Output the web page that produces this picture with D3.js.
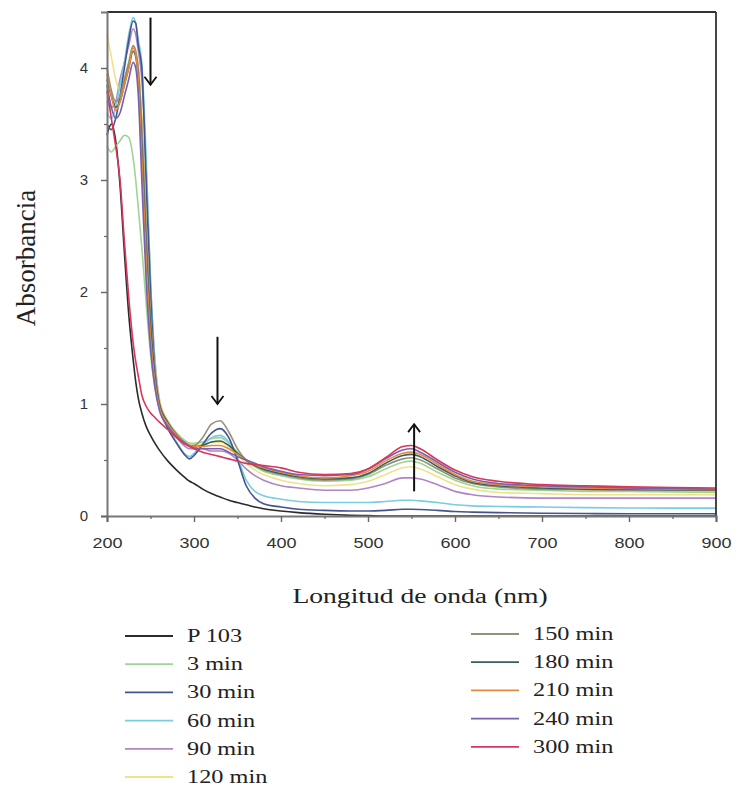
<!DOCTYPE html>
<html>
<head>
<meta charset="utf-8">
<script src="https://cdn.jsdelivr.net/npm/d3@7"></script>
<style>
  html, body { margin: 0; padding: 0; background: #fff; }
  svg { display: block; }
</style>
</head>
<body>
<svg id="chart" width="740" height="799"></svg>
<script>
// ---------------- DATA ----------------
const wavelengths = [200,205,210,215,220,225,230,233,236,240,245,250,255,260,270,280,290,295,300,310,320,330,340,350,360,370,380,400,420,450,480,500,520,540,550,560,580,600,620,650,700,750,800,850,900];

const seriesNames = ["P 103","3 min","30 min","60 min","90 min","120 min","150 min","180 min","210 min","240 min","300 min"];

const P103   = [3.40,3.50,3.35,2.95,2.35,1.80,1.40,1.20,1.05,0.92,0.80,0.72,0.65,0.59,0.49,0.41,0.34,0.31,0.29,0.24,0.20,0.17,0.14,0.12,0.10,0.08,0.065,0.045,0.03,0.015,0.006,0.003,0.0,0.0,0.0,0.0,0.0,0.0,0.0,0.0,0.0,0.0,0.0,0.0,0.0];
const min3   = [3.30,3.25,3.30,3.35,3.40,3.38,3.20,3.00,2.75,2.40,1.90,1.45,1.15,0.98,0.84,0.74,0.67,0.65,0.65,0.66,0.69,0.70,0.65,0.57,0.49,0.44,0.40,0.36,0.33,0.31,0.32,0.35,0.42,0.48,0.49,0.47,0.39,0.32,0.27,0.24,0.23,0.22,0.22,0.215,0.21];
const min30  = [3.50,3.45,3.55,3.75,4.00,4.25,4.42,4.40,4.20,4.00,3.00,2.00,1.30,1.00,0.78,0.65,0.54,0.51,0.54,0.64,0.74,0.78,0.70,0.50,0.27,0.16,0.11,0.08,0.06,0.05,0.045,0.045,0.05,0.06,0.06,0.058,0.05,0.04,0.035,0.03,0.025,0.022,0.02,0.02,0.02];
const min60  = [3.60,3.55,3.65,3.85,4.05,4.30,4.45,4.40,4.25,4.05,3.20,2.10,1.35,1.02,0.80,0.66,0.55,0.53,0.56,0.63,0.70,0.72,0.66,0.52,0.32,0.22,0.18,0.15,0.13,0.12,0.12,0.12,0.13,0.14,0.14,0.135,0.12,0.10,0.09,0.085,0.08,0.075,0.072,0.07,0.07];
const min90  = [3.70,3.65,3.70,3.90,4.05,4.20,4.35,4.30,4.15,3.90,3.10,2.10,1.40,1.05,0.82,0.70,0.62,0.60,0.60,0.60,0.58,0.58,0.56,0.50,0.42,0.36,0.32,0.27,0.25,0.23,0.23,0.25,0.29,0.34,0.34,0.33,0.28,0.22,0.19,0.17,0.16,0.16,0.16,0.16,0.16];
const min120 = [4.30,4.10,3.90,3.80,3.90,4.05,4.20,4.15,4.00,3.60,2.70,1.90,1.35,1.05,0.85,0.74,0.67,0.65,0.64,0.64,0.66,0.66,0.62,0.55,0.47,0.41,0.37,0.32,0.29,0.27,0.28,0.31,0.37,0.43,0.44,0.42,0.35,0.28,0.24,0.21,0.20,0.19,0.19,0.19,0.19];
const min150 = [4.00,3.80,3.70,3.75,3.90,4.05,4.20,4.15,4.00,3.50,2.60,1.80,1.30,1.02,0.84,0.73,0.65,0.63,0.63,0.70,0.82,0.85,0.75,0.60,0.50,0.45,0.41,0.37,0.34,0.32,0.33,0.37,0.45,0.51,0.52,0.50,0.42,0.34,0.29,0.26,0.24,0.235,0.23,0.23,0.225];
const min180 = [3.90,3.75,3.65,3.70,3.85,4.00,4.15,4.10,3.90,3.30,2.40,1.70,1.25,1.00,0.83,0.72,0.65,0.63,0.62,0.63,0.66,0.67,0.63,0.56,0.50,0.45,0.42,0.38,0.35,0.33,0.34,0.38,0.47,0.54,0.55,0.53,0.44,0.36,0.30,0.27,0.25,0.24,0.24,0.235,0.23];
const min210 = [3.95,3.75,3.62,3.70,3.85,4.00,4.18,4.12,3.90,3.20,2.30,1.60,1.20,0.98,0.82,0.72,0.65,0.63,0.62,0.62,0.63,0.63,0.60,0.55,0.50,0.46,0.43,0.39,0.36,0.34,0.36,0.40,0.49,0.56,0.57,0.55,0.46,0.37,0.31,0.28,0.26,0.25,0.245,0.24,0.235];
const min240 = [3.85,3.65,3.55,3.60,3.75,3.90,4.05,4.00,3.75,3.00,2.10,1.50,1.15,0.95,0.80,0.71,0.65,0.62,0.61,0.60,0.60,0.60,0.57,0.53,0.50,0.47,0.44,0.40,0.37,0.36,0.37,0.42,0.51,0.59,0.60,0.57,0.48,0.39,0.33,0.29,0.27,0.26,0.25,0.245,0.24];
const min300 = [3.80,3.55,3.30,3.00,2.45,1.95,1.55,1.38,1.25,1.08,0.98,0.92,0.88,0.84,0.77,0.70,0.64,0.62,0.60,0.57,0.55,0.53,0.51,0.49,0.47,0.46,0.45,0.43,0.39,0.37,0.38,0.42,0.52,0.62,0.63,0.60,0.50,0.41,0.35,0.31,0.28,0.27,0.26,0.255,0.25];

const seriesValues = [P103, min3, min30, min60, min90, min120, min150, min180, min210, min240, min300];

const xTicks = [200,300,400,500,600,700,800,900];
const xMinorTicks = [250,350,450,550,650,750,850];
const yTicks = [0,1,2,3,4];
const yMinorTicks = [0.5,1.5,2.5,3.5];

// annotation arrows (wavelength, from absorbance, to absorbance)
const arrowWl   = [250, 327, 553];
const arrowFrom = [4.45, 1.60, 0.22];
const arrowTo   = [3.85, 1.00, 0.82];

// ---------------- STYLE ----------------
const colors = ["#2b2b2b","#9fd494","#45548e","#78cde0","#b184c4","#efe28a","#92927a","#35605e","#e6893a","#7a5fb0","#d8365a"];
const drawOrder = [0,4,5,1,3,2,6,7,8,9,10];

// ---------------- DRAW ----------------
const svg = d3.select("#chart");
const x = d3.scaleLinear().domain([200, 900]).range([107, 716]);
const y = d3.scaleLinear().domain([0, 4.5]).range([516, 12]);

const line = d3.line()
  .x((d, i) => x(wavelengths[i]))
  .y(d => y(d))
  .curve(d3.curveMonotoneX);

const plot = svg.append("g");
drawOrder.forEach(k => {
  plot.append("path")
    .attr("d", line(seriesValues[k]))
    .attr("fill", "none")
    .attr("stroke", colors[k])
    .attr("stroke-width", 1.6)
    .attr("stroke-linejoin", "round");
});

// frame: top and right
svg.append("line").attr("x1", x(200)).attr("x2", x(900)).attr("y1", y(4.5)).attr("y2", y(4.5))
  .attr("stroke", "#333").attr("stroke-width", 1.8);
svg.append("line").attr("x1", x(900)).attr("x2", x(900)).attr("y1", y(4.5)).attr("y2", y(0))
  .attr("stroke", "#333").attr("stroke-width", 1.8);

// axes
const xAxis = d3.axisBottom(x).tickValues(xTicks).tickSize(6).tickPadding(15).tickFormat(d3.format("d"));
const gx = svg.append("g").attr("transform", `translate(0,${y(0)})`).call(xAxis);
gx.select(".domain").attr("stroke", "#777").attr("stroke-width", 2.2);
gx.selectAll(".tick line").attr("stroke", "#666").attr("stroke-width", 1.4);
gx.selectAll(".tick text")
  .attr("font-family", "'Liberation Sans', Arial, sans-serif")
  .attr("font-size", 15).attr("fill", "#333")
  .attr("transform", "scale(1.2,1)");
const gxm = svg.append("g").attr("transform", `translate(0,${y(0)})`)
  .call(d3.axisBottom(x).tickValues(xMinorTicks).tickSize(3).tickFormat(""));
gxm.select(".domain").remove();
gxm.selectAll(".tick line").attr("stroke", "#666").attr("stroke-width", 1.2);

const yAxis = d3.axisLeft(y).tickValues(yTicks).tickSize(6).tickPadding(13).tickFormat(d3.format("d"));
const gy = svg.append("g").attr("transform", `translate(${x(200)},0)`).call(yAxis);
gy.select(".domain").attr("stroke", "#777").attr("stroke-width", 2);
gy.selectAll(".tick line").attr("stroke", "#666").attr("stroke-width", 1.4);
gy.selectAll(".tick text")
  .attr("font-family", "'Liberation Sans', Arial, sans-serif")
  .attr("font-size", 15).attr("fill", "#333");
const gym = svg.append("g").attr("transform", `translate(${x(200)},0)`)
  .call(d3.axisLeft(y).tickValues(yMinorTicks).tickSize(3).tickFormat(""));
gym.select(".domain").remove();
gym.selectAll(".tick line").attr("stroke", "#666").attr("stroke-width", 1.2);

// axis titles
svg.append("text")
  .attr("transform", "translate(420,603) scale(1.38,1)")
  .attr("text-anchor", "middle")
  .attr("font-family", "'Liberation Serif', 'Times New Roman', serif")
  .attr("font-size", 20).attr("fill", "#222")
  .text("Longitud de onda (nm)");
svg.append("text")
  .attr("transform", "translate(35,258) rotate(-90)")
  .attr("text-anchor", "middle")
  .attr("font-family", "'Liberation Serif', 'Times New Roman', serif")
  .attr("font-size", 27).attr("fill", "#222")
  .text("Absorbancia");

// arrows
const arrows = svg.append("g");
arrowWl.forEach((w, i) => {
  const ax = x(w), y1 = y(arrowFrom[i]), y2 = y(arrowTo[i]);
  const dir = y2 > y1 ? 1 : -1;
  arrows.append("line").attr("x1", ax).attr("x2", ax).attr("y1", y1).attr("y2", y2)
    .attr("stroke", "#111").attr("stroke-width", 2);
  arrows.append("path")
    .attr("d", `M${ax - 6},${y2 - dir * 8} L${ax},${y2} L${ax + 6},${y2 - dir * 8}`)
    .attr("fill", "none").attr("stroke", "#111").attr("stroke-width", 1.8);
});

// legend
const legend = svg.append("g");
seriesNames.forEach((name, i) => {
  const col = i < 6 ? 0 : 1;
  const row = col === 0 ? i : i - 6;
  const lx = col === 0 ? 125 : 471;
  const ly = (col === 0 ? 636 : 634) + row * 28.2;
  legend.append("line").attr("x1", lx).attr("x2", lx + 48).attr("y1", ly).attr("y2", ly)
    .attr("stroke", colors[i]).attr("stroke-width", 1.8);
  legend.append("text")
    .attr("transform", `translate(${lx + 62},${ly + 6}) scale(1.35,1)`)
    .attr("font-family", "'Liberation Serif', 'Times New Roman', serif")
    .attr("font-size", 18).attr("fill", "#222")
    .text(name);
});
</script>
</body>
</html>
